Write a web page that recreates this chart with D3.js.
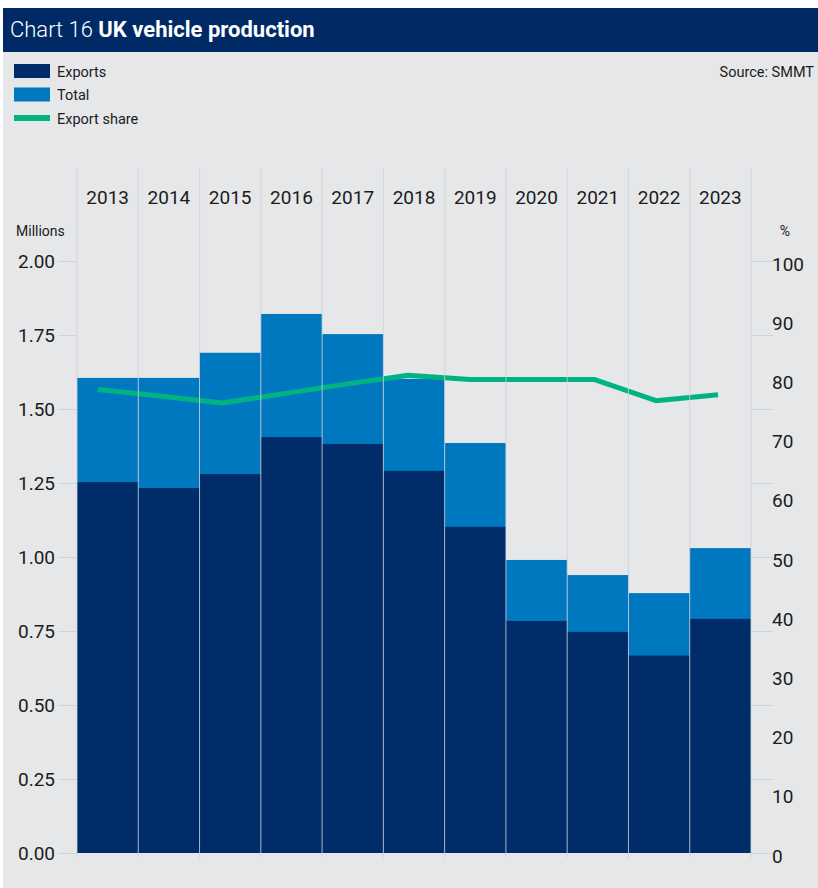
<!DOCTYPE html>
<html>
<head>
<meta charset="utf-8">
<script src="https://cdn.jsdelivr.net/npm/d3@7"></script>
<style>
  html, body { margin: 0; padding: 0; background: #ffffff; }
  svg { display: block; }
  text { font-family: Roboto, "Noto Sans", sans-serif; fill: #1b1b1b; }
</style>
</head>
<body>
<div id="chart"></div>
<script>
// UK vehicle production, millions of units, and export share (%)
const years = ["2013", "2014", "2015", "2016", "2017", "2018", "2019", "2020", "2021", "2022", "2023"];
const totalProduction = [1.605, 1.605, 1.690, 1.821, 1.753, 1.602, 1.385, 0.990, 0.939, 0.878, 1.030];
const exportProduction = [1.253, 1.233, 1.280, 1.405, 1.382, 1.291, 1.102, 0.784, 0.747, 0.667, 0.791];
const exportShare = [78.3, 77.2, 76.0, 77.6, 79.2, 80.7, 80.0, 80.0, 80.0, 76.4, 77.4];
const leftTicks = [0, 0.25, 0.5, 0.75, 1.0, 1.25, 1.5, 1.75, 2.0];
const rightTicks = [0, 10, 20, 30, 40, 50, 60, 70, 80, 90, 100];

const W = 818, H = 888;
const colors = {
  header: "#002a66",
  panel: "#e6e7e9",
  exports: "#002d6a",
  total: "#0078c0",
  share: "#00b383",
  grid: "#cfd2d6"
};

const svg = d3.select("#chart").append("svg")
  .attr("width", W).attr("height", H);

// Background panel and title band
svg.append("rect").attr("x", 3).attr("y", 8).attr("width", W - 3).attr("height", H - 8)
  .attr("fill", colors.panel);
svg.append("rect").attr("x", 3).attr("y", 8).attr("width", W - 3).attr("height", 44)
  .attr("fill", colors.header);

const title = svg.append("text").attr("x", 10).attr("y", 37)
  .style("font-size", "22px").style("fill", "#ffffff");
title.append("tspan").style("font-weight", 300).text("Chart 16 ");
title.append("tspan").style("font-weight", 700).text("UK vehicle production");

// Legend
const legend = svg.append("g");
const legendItems = [
  { label: "Exports", color: colors.exports, kind: "rect" },
  { label: "Total", color: colors.total, kind: "rect" },
  { label: "Export share", color: colors.share, kind: "line" }
];
legendItems.forEach((d, i) => {
  const cy = 71 + i * 23.5;
  if (d.kind === "rect") {
    legend.append("rect").attr("x", 14).attr("y", cy - 7).attr("width", 36).attr("height", 14)
      .attr("fill", d.color);
  } else {
    legend.append("rect").attr("x", 14).attr("y", cy - 3).attr("width", 36).attr("height", 6)
      .attr("fill", d.color);
  }
  legend.append("text").attr("x", 57).attr("y", cy + 5.5)
    .style("font-size", "14.5px").text(d.label);
});

svg.append("text").attr("x", 814).attr("y", 77).attr("text-anchor", "end")
  .style("font-size", "14.5px").text("Source: SMMT");

// Scales
const plotLeft = 77, plotRight = 751, plotTop = 261, plotBottom = 853;
const x = d3.scaleBand().domain(years).range([plotLeft, plotRight]).padding(0);
const xLine = d3.scalePoint().domain(years).range([98, 718]);
const y = d3.scaleLinear().domain([0, 2]).range([plotBottom, plotTop]);
const yR = d3.scaleLinear().domain([0, 100]).range([plotBottom, plotTop]);

// Left axis
const leftAxis = svg.append("g").attr("transform", `translate(${plotLeft},0)`)
  .call(d3.axisLeft(y).tickValues(leftTicks).tickFormat(d3.format(".2f")).tickSize(19).tickPadding(3));
leftAxis.select(".domain").remove();
leftAxis.selectAll(".tick line").attr("stroke", colors.grid);
leftAxis.selectAll(".tick text").style("font-size", "19px").style("font-family", "Roboto, sans-serif")
  .attr("fill", "#1b1b1b").attr("dy", "0.36em");

// Right axis: short tick lines at the left-axis levels, labels for percentages
const rightLines = svg.append("g").attr("transform", `translate(${plotRight},0)`)
  .call(d3.axisRight(y).tickValues(leftTicks).tickSize(22).tickFormat(""));
rightLines.select(".domain").remove();
rightLines.selectAll(".tick line").attr("stroke", colors.grid);

const rightLabels = svg.append("g").attr("transform", `translate(${plotRight},0)`)
  .call(d3.axisRight(yR).tickValues(rightTicks).tickSize(0).tickPadding(21));
rightLabels.select(".domain").remove();
rightLabels.selectAll(".tick text").style("font-size", "19px").style("font-family", "Roboto, sans-serif")
  .attr("fill", "#1b1b1b").attr("dy", "0.48em");

// Axis unit labels
svg.append("text").attr("x", 16).attr("y", 236).style("font-size", "14px").text("Millions");
svg.append("text").attr("x", 785).attr("y", 236).attr("text-anchor", "middle")
  .style("font-size", "14px").text("%");

// Year labels along the top
const topAxis = svg.append("g").attr("transform", "translate(0,204)")
  .call(d3.axisTop(x).tickSize(0).tickPadding(0));
topAxis.select(".domain").remove();
topAxis.selectAll(".tick text").style("font-size", "19px").style("font-family", "Roboto, sans-serif")
  .attr("fill", "#1b1b1b");

// Bars: total behind, exports in front
const rows = years.map((yr, i) => ({ year: yr, total: totalProduction[i], exports: exportProduction[i], share: exportShare[i] }));

svg.append("g").selectAll("rect").data(rows).join("rect")
  .attr("x", d => x(d.year)).attr("width", x.bandwidth())
  .attr("y", d => y(d.total)).attr("height", d => y(0) - y(d.total))
  .attr("fill", colors.total);

svg.append("g").selectAll("rect").data(rows).join("rect")
  .attr("x", d => x(d.year)).attr("width", x.bandwidth())
  .attr("y", d => y(d.exports)).attr("height", d => y(0) - y(d.exports))
  .attr("fill", colors.exports);

// Export share line
const line = d3.line().x(d => xLine(d.year)).y(d => yR(d.share));
svg.append("path").datum(rows).attr("d", line)
  .attr("fill", "none").attr("stroke", colors.share).attr("stroke-width", 5)
  .attr("stroke-linejoin", "round").attr("stroke-linecap", "butt");

// Vertical separators at category boundaries, drawn on top
const bounds = years.map(yr => x(yr)).concat([x(years[years.length - 1]) + x.bandwidth()]);
svg.append("g").selectAll("line").data(bounds).join("line")
  .attr("x1", d => d).attr("x2", d => d)
  .attr("y1", 168).attr("y2", 858)
  .attr("stroke", colors.grid).attr("stroke-opacity", 0.8).attr("stroke-width", 1);
</script>
</body>
</html>
